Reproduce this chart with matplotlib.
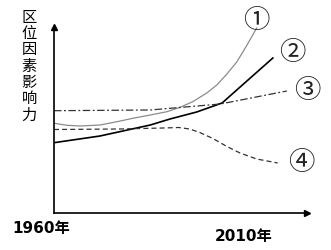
import matplotlib.pyplot as plt

# curve data: year vs. influence of location factor
years_1 = [1960, 1963, 1966, 1970.5, 1974.4, 1978, 1982, 1985.8, 1988.8, 1991.7,
           1994.9, 1997.2, 1999.5, 2001.8, 2004.1, 2006.3]
vals_1 = [8.97, 8.77, 8.7, 8.8, 9.13, 9.47, 9.8, 10.13, 10.57, 11.13,
          12.0, 12.8, 13.9, 15.13, 16.8, 18.5]

years_2 = [1960, 1970.5, 1982, 1986.5, 1992.6, 1998.4, 2010]
vals_2 = [7.03, 7.7, 8.8, 9.4, 10.1, 11.0, 15.5]

years_3 = [1960, 1982, 1998, 2013.2]
vals_3 = [10.23, 10.3, 10.9, 12.2]

years_4 = [1960, 1975, 1985, 1988.5, 1991, 1993.3, 1996.3, 1999.5, 2002.5, 2006.3, 2011.1]
vals_4 = [8.35, 8.4, 8.5, 8.55, 8.4, 8.05, 7.45, 6.65, 6.0, 5.4, 5.0]

# curve labels and where they sit (year, value)
curve_labels = ['①', '②', '③', '④']
label_years = [2006.3, 2014.5, 2017.9, 2016.5]
label_vals = [19.3, 16.1, 12.3, 5.1]

y_label = '区位因素影响力'
start_label = '1960年'
end_label = '2010年'

plt.rcParams['font.family'] = ['DejaVu Sans', 'Noto Sans CJK SC']

fig = plt.figure(figsize=(3.31, 2.5), dpi=100)
ax = fig.add_axes([54 / 331, 37 / 250, 253 / 331, 186 / 250])

ax.plot(years_1, vals_1, color='#8c8c8c', lw=0.9)
ax.plot(years_2, vals_2, color='black', lw=1.2)
ax.plot(years_3, vals_3, color='#333333', lw=0.9, dashes=(6, 2, 1.5, 2))
ax.plot(years_4, vals_4, color='#333333', lw=0.9, dashes=(4, 2.5))

for lab, lx, ly in zip(curve_labels, label_years, label_vals):
    ax.text(lx, ly, lab, ha='center', va='center', fontsize=19,
            family=['Noto Sans CJK SC'], color='#222222', fontweight='light')

ax.set_xlim(1960, 2017.8)
ax.set_ylim(0, 18.6)
ax.set_xticks([])
ax.set_yticks([])
for s in ['top', 'right']:
    ax.spines[s].set_visible(False)
for s in ['left', 'bottom']:
    ax.spines[s].set_linewidth(1.2)

# arrow heads
ax.plot(1, 0, '>k', markersize=5, transform=ax.transAxes, clip_on=False)
ax.plot(0, 1, '^k', markersize=5, transform=ax.transAxes, clip_on=False)

# vertical y label, one character per line
fig.text(29 / 331, 1 - 66.2 / 250, '\n'.join(y_label), ha='center', va='center',
         fontsize=11, family=['Noto Sans CJK SC'], linespacing=0.95)

fig.text(41.5 / 331, 1 - 228 / 250, start_label, ha='center', va='center',
         fontsize=11, fontweight='bold')
fig.text(244 / 331, 1 - 237 / 250, end_label, ha='center', va='center',
         fontsize=11, fontweight='bold')

fig.savefig('out.png', dpi=100)
